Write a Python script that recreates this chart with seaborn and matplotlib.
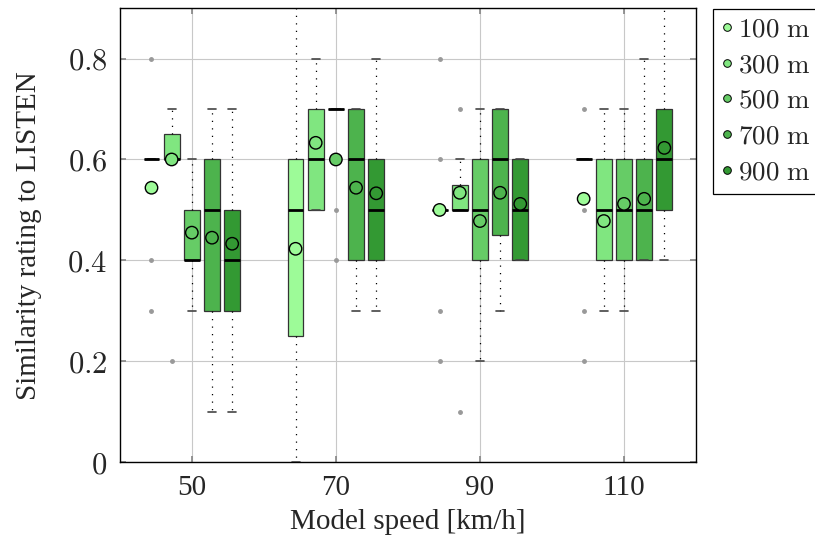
import numpy as np
import pandas as pd
import seaborn as sns
import matplotlib.pyplot as plt
from matplotlib.lines import Line2D

# Box statistics (one list per distance, over the speeds)
speeds = [50, 70, 90, 110]
distances = ["100 m", "300 m", "500 m", "700 m", "900 m"]
colors = ["#9dfb98", "#80e680", "#66cc66", "#4db34d", "#339933"]

med_100 = [0.6, 0.5, 0.5, 0.6]
q1_100 = [0.6, 0.25, 0.5, 0.6]
q3_100 = [0.6, 0.6, 0.5, 0.6]
lo_100 = [0.6, 0.0, 0.5, 0.6]
hi_100 = [0.6, 1.0, 0.5, 0.6]
mean_100 = [0.544, 0.423, 0.5, 0.522]
out_100 = [[0.8, 0.4, 0.3], [], [0.8, 0.6, 0.3, 0.2], [0.7, 0.5, 0.3, 0.2]]

med_300 = [0.6, 0.6, 0.5, 0.5]
q1_300 = [0.6, 0.5, 0.5, 0.4]
q3_300 = [0.65, 0.7, 0.55, 0.6]
lo_300 = [0.6, 0.5, 0.5, 0.3]
hi_300 = [0.7, 0.8, 0.6, 0.7]
mean_300 = [0.6, 0.633, 0.534, 0.478]
out_300 = [[0.2], [], [0.7, 0.1], []]

med_500 = [0.4, 0.7, 0.5, 0.5]
q1_500 = [0.4, 0.7, 0.4, 0.4]
q3_500 = [0.5, 0.7, 0.6, 0.6]
lo_500 = [0.3, 0.7, 0.2, 0.3]
hi_500 = [0.6, 0.7, 0.7, 0.7]
mean_500 = [0.455, 0.6, 0.478, 0.512]
out_500 = [[], [0.5, 0.4], [], []]

med_700 = [0.5, 0.6, 0.6, 0.5]
q1_700 = [0.3, 0.4, 0.45, 0.4]
q3_700 = [0.6, 0.7, 0.7, 0.6]
lo_700 = [0.1, 0.3, 0.3, 0.4]
hi_700 = [0.7, 0.7, 0.7, 0.8]
mean_700 = [0.445, 0.544, 0.534, 0.522]
out_700 = [[], [], [], []]

med_900 = [0.4, 0.5, 0.5, 0.6]
q1_900 = [0.3, 0.4, 0.4, 0.5]
q3_900 = [0.5, 0.6, 0.6, 0.7]
lo_900 = [0.1, 0.3, 0.4, 0.4]
hi_900 = [0.7, 0.8, 0.6, 1.0]
mean_900 = [0.433, 0.533, 0.512, 0.623]
out_900 = [[], [], [], []]

series = [
    (med_100, q1_100, q3_100, lo_100, hi_100, mean_100, out_100),
    (med_300, q1_300, q3_300, lo_300, hi_300, mean_300, out_300),
    (med_500, q1_500, q3_500, lo_500, hi_500, mean_500, out_500),
    (med_700, q1_700, q3_700, lo_700, hi_700, mean_700, out_700),
    (med_900, q1_900, q3_900, lo_900, hi_900, mean_900, out_900),
]

sns.set_theme(style="whitegrid")
plt.rcParams['font.family'] = ['Liberation Serif', 'DejaVu Serif']
plt.rcParams['mathtext.fontset'] = 'cm'

fig = plt.figure(figsize=(8.15, 5.4), dpi=100)
ax = fig.add_axes([0.147, 0.144, 0.707, 0.841])

step = 2.8
rows = []
for i, (med, q1, q3, lo, hi, mean, out) in enumerate(series):
    pos = [s + (i - 2) * step for s in speeds]
    stats = []
    for j in range(len(speeds)):
        stats.append(dict(med=med[j], q1=q1[j], q3=q3[j], whislo=lo[j],
                          whishi=hi[j], fliers=np.array(out[j])))
        rows.append({"pos": pos[j], "mean": mean[j], "distance": distances[i]})
    ax.bxp(stats, positions=pos, widths=2.2, capwidths=1.1, patch_artist=True,
           manage_ticks=False,
           boxprops=dict(facecolor=colors[i], edgecolor="#333333", linewidth=0.9),
           medianprops=dict(color="black", linewidth=2),
           whiskerprops=dict(color="black", linewidth=0.9, linestyle=(0, (1, 5))),
           capprops=dict(color="#444444", linewidth=1.2),
           flierprops=dict(marker="o", markersize=2.5, markerfacecolor="#999999",
                           markeredgecolor="#999999"),
           zorder=3)

df = pd.DataFrame(rows)
sns.scatterplot(data=df, x="pos", y="mean", hue="distance", palette=colors,
                s=80, edgecolor="black", linewidth=1, legend=False, ax=ax, zorder=5)

ax.set_xlim(40, 120)
ax.set_ylim(0, 0.9)
ax.set_xticks(speeds)
ax.set_xticklabels([str(s) for s in speeds], fontsize=21)
yt = [0, 0.2, 0.4, 0.6, 0.8]
ax.set_yticks(yt)
ax.set_yticklabels(["$0$"] + [f"${v:.1f}$" for v in yt[1:]], fontsize=22)
ax.set_xlabel("Model speed [km/h]", fontsize=21, labelpad=6)
ax.set_ylabel("Similarity rating to LISTEN", fontsize=21, labelpad=18)
ax.grid(True, color="#c8c8c8", linewidth=0.8)
ax.tick_params(axis="both", direction="in", length=4, color="#888888",
               left=True, bottom=True, right=True, top=True, pad=9)
for sp in ax.spines.values():
    sp.set_color("black")
    sp.set_linewidth(1)

handles = [Line2D([], [], linestyle="none", marker="o", markersize=5.5,
                  markerfacecolor=c, markeredgecolor="black", markeredgewidth=0.7)
           for c in colors]
leg = fig.legend(handles, [f"${d.split()[0]}\\ \\mathrm{{m}}$" for d in distances],
                 loc="upper left", bbox_to_anchor=(0.875, 0.983), fontsize=19.5,
                 frameon=True, fancybox=False, edgecolor="black", framealpha=1,
                 handlelength=0.4, handletextpad=0.2, labelspacing=0.4,
                 borderpad=0.3, borderaxespad=0)
leg.get_frame().set_linewidth(0.9)

fig.savefig("out.png", dpi=100)
